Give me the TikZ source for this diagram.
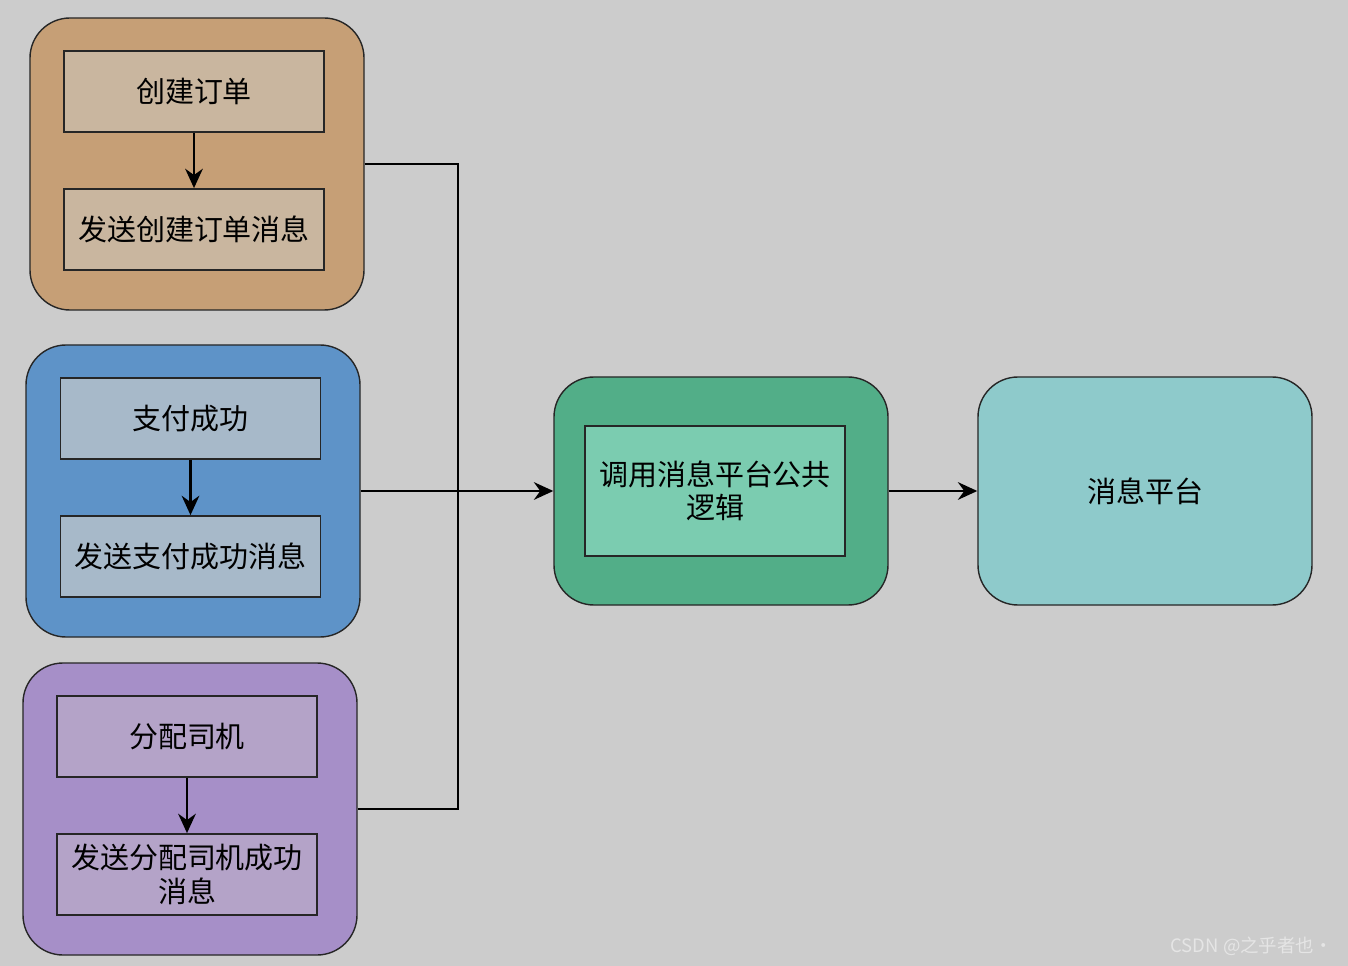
\documentclass[tikz,border=0pt]{standalone}
\usepackage{fontspec}
\setmainfont{Noto Sans CJK SC}
\usepackage{xcolor}
\usetikzlibrary{arrows.meta, positioning}

\definecolor{bgGray}{HTML}{CCCCCC}
\definecolor{brownOut}{HTML}{C69F76}
\definecolor{brownIn}{HTML}{C9B69F}
\definecolor{blueOut}{HTML}{5E93C8}
\definecolor{blueIn}{HTML}{A7B9C9}
\definecolor{purpleOut}{HTML}{A68FC8}
\definecolor{purpleIn}{HTML}{B4A3C8}
\definecolor{greenOut}{HTML}{52AE88}
\definecolor{greenIn}{HTML}{7BCCB0}
\definecolor{cyanBox}{HTML}{8ECACB}

\begin{document}
\begin{tikzpicture}[
  font=\fontsize{16.5}{19}\selectfont,
  group/.style={draw=black!85, rounded corners=0.8cm, minimum width=6.68cm, minimum height=5.84cm, line width=0.8pt},
  task/.style={draw=black!85, minimum width=5.2cm, minimum height=1.62cm, align=center, line width=1pt},
  arr/.style={-{Stealth[length=11pt, width=10pt]}, line width=1.6pt},
  link/.style={line width=1.6pt}
]
\fill[bgGray] (0,0) rectangle (26.96,-19.32);
\useasboundingbox (0,0) rectangle (26.96,-19.32);

% order group
\node[group, fill=brownOut] (order) at (3.94,-3.28) {};
\node[task, fill=brownIn] (create) at (3.88,-1.83) {创建订单};
\node[task, fill=brownIn] (sendCreate) at (3.88,-4.59) {发送创建订单消息};
\draw[arr] (create) -- (sendCreate);

% pay group
\node[group, fill=blueOut] (pay) at (3.86,-9.82) {};
\node[task, fill=blueIn] (paid) at (3.81,-8.37) {支付成功};
\node[task, fill=blueIn] (sendPaid) at (3.81,-11.13) {发送支付成功消息};
\draw[arr] (paid) -- (sendPaid);

% driver group
\node[group, fill=purpleOut] (driver) at (3.80,-16.18) {};
\node[task, fill=purpleIn] (assign) at (3.74,-14.73) {分配司机};
\node[task, fill=purpleIn] (sendAssign) at (3.74,-17.49) {发送分配司机成功\\消息};
\draw[arr] (assign) -- (sendAssign);

% common logic and platform
\node[group, fill=greenOut, minimum height=4.56cm] (common) at (14.42,-9.82) {};
\node[task, fill=greenIn, minimum height=2.6cm] (callLogic) at (14.30,-9.82) {调用消息平台公共\\逻辑};
\node[group, fill=cyanBox, minimum height=4.56cm] (platform) at (22.90,-9.82) {消息平台};

\coordinate (join) at (9.16,-9.82);
\draw[link] (order.east) -| (join);
\draw[link] (driver.east) -| (join);
\draw[arr] (pay.east) -- (common.west);
\draw[arr] (common.east) -- (platform.west);

\node[anchor=east, text=white!90!black, font=\fontsize{10.5}{12}\selectfont] (mark) at (26.78,-18.92) {CSDN @之乎者也·};
\end{tikzpicture}
\end{document}
